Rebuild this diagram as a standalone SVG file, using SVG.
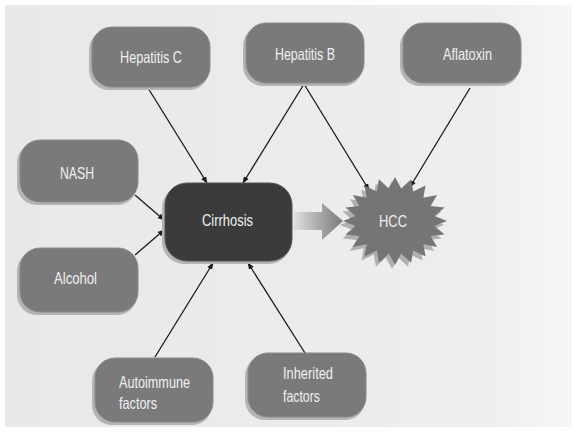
<svg xmlns="http://www.w3.org/2000/svg" width="577" height="432" viewBox="0 0 577 432">
<defs>
<linearGradient id="bg" x1="0" y1="0" x2="1" y2="0">
<stop offset="0" stop-color="#e8e8e8"/>
<stop offset="0.85" stop-color="#eeeeee"/>
<stop offset="1" stop-color="#f6f6f6"/>
</linearGradient>
<linearGradient id="bigArrow" x1="0" y1="0" x2="1" y2="0">
<stop offset="0" stop-color="#e2e2e2"/>
<stop offset="0.6" stop-color="#a0a0a0"/>
<stop offset="1" stop-color="#7c7c7c"/>
</linearGradient>
<marker id="ah" viewBox="0 0 10 10" refX="9" refY="5" markerWidth="7" markerHeight="7" markerUnits="userSpaceOnUse" orient="auto">
<path d="M0,1 L10,5 L0,9 z" fill="#1a1a1a"/>
</marker>
</defs>
<style>
.sh{fill:#b4b4b4;}
.nd{fill:#7a7a7a;stroke:#8a8a8a;stroke-width:1;}
.dk{fill:#3b3b3b;stroke:#555;stroke-width:1;}
.t{font-family:"Liberation Sans",Arial,sans-serif;font-size:16.5px;fill:#f0f0f0;}
.c{text-anchor:middle;}
.ln{stroke:#1a1a1a;stroke-width:1.3;fill:none;marker-end:url(#ah);}
</style>
<rect x="5" y="5" width="567" height="422" fill="url(#bg)"/>

<g id="connectors">
<line class="ln" x1="148" y1="88" x2="207" y2="183"/>
<line class="ln" x1="304" y1="84" x2="243" y2="183"/>
<line class="ln" x1="304" y1="84" x2="369" y2="190"/>
<line class="ln" x1="470" y1="88" x2="410" y2="187"/>
<line class="ln" x1="135" y1="195" x2="164" y2="220"/>
<line class="ln" x1="135" y1="255" x2="164" y2="230"/>
<line class="ln" x1="155" y1="357" x2="213" y2="263"/>
<line class="ln" x1="305" y1="353" x2="248" y2="263"/>
<polygon points="293,212 322,212 322,203 343,221 322,240 322,230 293,230" fill="url(#bigArrow)"/>
</g>

<g id="hepatitis-c">
<rect class="sh" x="89" y="30" width="120" height="60" rx="20"/>
<rect class="nd" x="92" y="27" width="118" height="60" rx="20"/>
<text class="t" x="120" y="63" textLength="62" lengthAdjust="spacingAndGlyphs">Hepatitis C</text>
</g>
<g id="hepatitis-b">
<rect class="sh" x="243" y="26" width="120" height="60" rx="20"/>
<rect class="nd" x="246" y="23" width="118" height="60" rx="20"/>
<text class="t" x="275" y="60" textLength="60" lengthAdjust="spacingAndGlyphs">Hepatitis B</text>
</g>
<g id="aflatoxin">
<rect class="sh" x="400" y="26" width="120" height="60" rx="20"/>
<rect class="nd" x="403" y="23" width="118" height="60" rx="20"/>
<text class="t" x="443" y="60" textLength="49" lengthAdjust="spacingAndGlyphs">Aflatoxin</text>
</g>
<g id="nash">
<rect class="sh" x="17" y="143" width="120" height="62" rx="20"/>
<rect class="nd" x="20" y="140" width="118" height="62" rx="20"/>
<text class="t" x="60" y="179" textLength="34" lengthAdjust="spacingAndGlyphs">NASH</text>
</g>
<g id="alcohol">
<rect class="sh" x="17" y="251" width="120" height="64" rx="20"/>
<rect class="nd" x="20" y="248" width="118" height="64" rx="20"/>
<text class="t" x="54" y="284" textLength="43" lengthAdjust="spacingAndGlyphs">Alcohol</text>
</g>
<g id="cirrhosis">
<rect class="sh" x="162" y="186" width="129" height="78" rx="22"/>
<rect class="dk" x="165" y="183" width="127" height="78" rx="22"/>
<text class="t" x="202" y="226" textLength="51" lengthAdjust="spacingAndGlyphs">Cirrhosis</text>
</g>
<g id="hcc">
<polygon transform="translate(-3,4)" fill="#b0b0b0" points="447,221 434.5,226.1 444.5,234.6 430.6,236 437.1,246.9 423.3,244.3 425.6,256.6 413.2,250.4 411.1,262.8 401.2,253.6 395,265 388.8,253.6 378.9,262.8 376.8,250.4 364.4,256.6 366.7,244.3 352.9,246.9 359.4,236 345.5,234.6 355.5,226.1 343,221 355.5,215.9 345.5,207.4 359.4,206 352.9,195.1 366.7,197.7 364.4,185.4 376.8,191.6 378.9,179.2 388.8,188.4 395,177 401.2,188.4 411.1,179.2 413.2,191.6 425.6,185.4 423.3,197.7 437.1,195.1 430.6,206 444.5,207.4 434.5,215.9"/>
<polygon fill="#757575" points="447,221 434.5,226.1 444.5,234.6 430.6,236 437.1,246.9 423.3,244.3 425.6,256.6 413.2,250.4 411.1,262.8 401.2,253.6 395,265 388.8,253.6 378.9,262.8 376.8,250.4 364.4,256.6 366.7,244.3 352.9,246.9 359.4,236 345.5,234.6 355.5,226.1 343,221 355.5,215.9 345.5,207.4 359.4,206 352.9,195.1 366.7,197.7 364.4,185.4 376.8,191.6 378.9,179.2 388.8,188.4 395,177 401.2,188.4 411.1,179.2 413.2,191.6 425.6,185.4 423.3,197.7 437.1,195.1 430.6,206 444.5,207.4 434.5,215.9"/>
<text class="t" x="379" y="227" textLength="28" lengthAdjust="spacingAndGlyphs">HCC</text>
</g>
<g id="autoimmune">
<rect class="sh" x="92" y="361" width="120" height="64" rx="20"/>
<rect class="nd" x="95" y="358" width="118" height="64" rx="20"/>
<text class="t" x="119" y="388" textLength="71" lengthAdjust="spacingAndGlyphs">Autoimmune</text>
<text class="t" x="119" y="409" textLength="38" lengthAdjust="spacingAndGlyphs">factors</text>
</g>
<g id="inherited">
<rect class="sh" x="245" y="356" width="120" height="64" rx="20"/>
<rect class="nd" x="248" y="353" width="118" height="64" rx="20"/>
<text class="t" x="283" y="379" textLength="50" lengthAdjust="spacingAndGlyphs">Inherited</text>
<text class="t" x="283" y="402" textLength="37" lengthAdjust="spacingAndGlyphs">factors</text>
</g>
</svg>
